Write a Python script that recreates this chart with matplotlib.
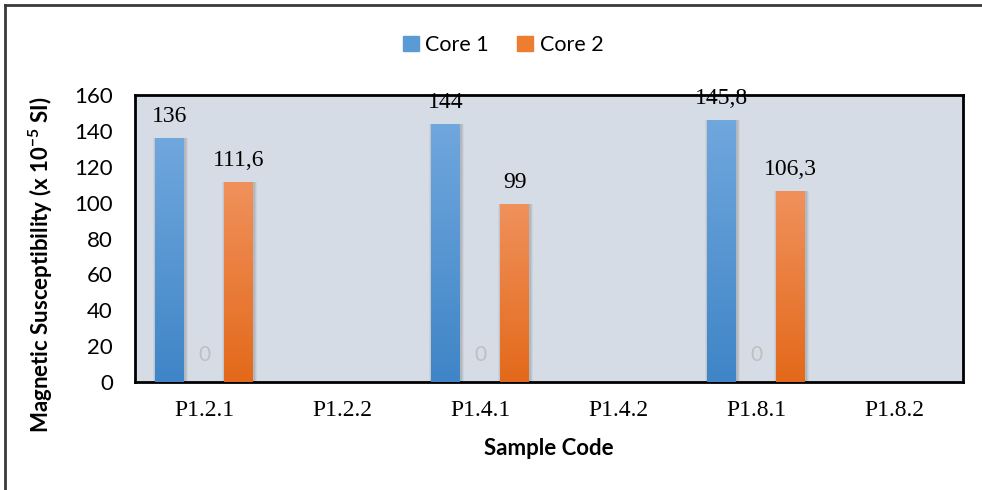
import numpy as np
import matplotlib
matplotlib.use("Agg")
import matplotlib.pyplot as plt
from matplotlib.lines import Line2D
from matplotlib.colors import LinearSegmentedColormap

# data
samples = ["P1.2.1", "P1.2.2", "P1.4.1", "P1.4.2", "P1.8.1", "P1.8.2"]
core1 = [136, None, 144, None, 145.8, None]
core2 = [111.6, None, 99, None, 106.3, None]
blank = [0, None, 0, None, 0, None]   # empty middle series, only its "0" labels show

SANS = ["Lato", "DejaVu Sans"]
SERIF = ["Liberation Serif", "DejaVu Serif"]
BG = "#d6dce5"

fig = plt.figure(figsize=(9.82, 4.9), dpi=100)
ax = fig.add_axes([135/982, 1-382/490, (963-135)/982, (382-95)/490])
ax.set_facecolor(BG)

x = np.arange(len(samples))
slot, bw = 0.25, 0.205

def fmt(v):
    return f"{v:g}".replace(".", ",")

def grad_bars(vals, off, top, bot, name):
    idx = [i for i, v in enumerate(vals) if v is not None]
    hv = [vals[i] for i in idx]
    xs = x[idx] + off
    # soft shadow
    for k, a in [(0.05, 0.06), (0.035, 0.08), (0.02, 0.10)]:
        ax.bar(xs + 0.006, hv, bw + k, color="#404040", alpha=a, lw=0, zorder=1)
    bars = ax.bar(xs, hv, bw, color=bot, lw=0, zorder=2, label=name)
    cmap = LinearSegmentedColormap.from_list(name, [bot, top])
    g = np.linspace(0, 1, 256).reshape(-1, 1)
    for b in bars:
        im = ax.imshow(g, cmap=cmap, origin="lower", aspect="auto", zorder=3,
                       extent=[b.get_x(), b.get_x() + b.get_width(), 0, b.get_height()])
        im.set_clip_path(b)
    for xx, v in zip(xs, hv):
        ax.annotate(fmt(v), (xx, v), xytext=(0, 8), textcoords="offset points",
                    ha="center", va="bottom", fontsize=17, family=SERIF, color="black",
                    zorder=6, annotation_clip=False)
    return bars

grad_bars(core1, -slot, "#70a7dd", "#3f85c7", "Core 1")
grad_bars(core2, slot, "#f0915c", "#e3691a", "Core 2")

for i, v in enumerate(blank):
    if v is not None:
        ax.annotate(fmt(v), (x[i], v), xytext=(0, 12), textcoords="offset points",
                    ha="center", va="bottom", fontsize=15, family=SANS, color="#bfbfbf", zorder=6)

ax.set_xlim(-0.5, len(samples) - 0.5)
ax.set_ylim(0, 160)
ax.set_yticks(np.arange(0, 161, 20))
ax.set_xticks(x)
ax.set_xticklabels(samples, family=SERIF, fontsize=17)
for t in ax.get_yticklabels():
    t.set_family(SANS); t.set_fontsize(16)
ax.tick_params(axis="both", length=0)
ax.tick_params(axis="y", pad=16)
ax.tick_params(axis="x", pad=13)
for s in ax.spines.values():
    s.set_color("black"); s.set_linewidth(2)

ax.set_xlabel("Sample Code", family=SANS, fontsize=16, fontweight="bold", labelpad=12)
ax.set_ylabel(r"Magnetic Susceptibility (x 10$^{\mathregular{-5}}$ SI)", family=SANS,
              fontsize=16, fontweight="bold")
ax.yaxis.set_label_coords(-(135-55)/828, (382-265)/287)

h = [plt.Rectangle((0, 0), 1, 1, color="#5b9bd5"), plt.Rectangle((0, 0), 1, 1, color="#ed7d31")]
fig.legend(h, ["Core 1", "Core 2"], loc="center", bbox_to_anchor=(503/982, 1-45/490), ncol=2,
           frameon=False, prop={"family": SANS, "size": 15.5}, handlelength=0.75, handleheight=0.75,
           handletextpad=0.3, columnspacing=1.3)

# outer chart border (only top and left edges visible in the crop)
fig.add_artist(Line2D([5/982, 1], [1-5/490, 1-5/490], color="#3a3a3a", lw=2, transform=fig.transFigure))
fig.add_artist(Line2D([5/982, 5/982], [0, 1-5/490], color="#3a3a3a", lw=2, transform=fig.transFigure))

fig.savefig("out.png", dpi=100, facecolor="white")
